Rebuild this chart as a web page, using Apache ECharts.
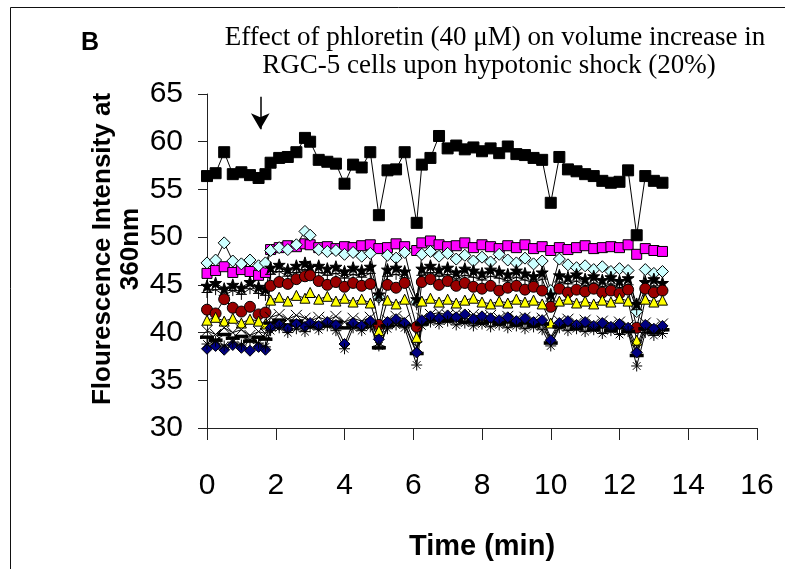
<!DOCTYPE html>
<html>
<head>
<meta charset="utf-8">
<script src="https://cdn.jsdelivr.net/npm/echarts@6/dist/echarts.min.js"></script>
<style>
  html, body { margin: 0; padding: 0; background: #fff; }
  #chart { width: 785px; height: 569px; }
</style>
</head>
<body>
<div id="chart"></div>
<script>
// time points (min)
const times = [0, 0.25, 0.5, 0.75, 1, 1.25, 1.5, 1.7, 1.85, 2.1, 2.35, 2.6, 2.85, 3.0,
  3.25, 3.5, 3.75, 4, 4.25, 4.5, 4.75, 5, 5.25, 5.5, 5.75, 6.1, 6.25, 6.5, 6.75, 7,
  7.25, 7.5, 7.75, 8, 8.25, 8.5, 8.75, 9, 9.25, 9.5, 9.75, 10, 10.25, 10.5, 10.75, 11,
  11.25, 11.5, 11.75, 12, 12.25, 12.5, 12.75, 13, 13.25];

const blackSquares = [56.4, 56.7, 58.9, 56.6, 56.8, 56.5, 56.2, 56.6, 57.8, 58.3, 58.4, 58.9, 60.4, 60.0,
  58.1, 57.9, 57.7, 55.6, 57.6, 57.3, 58.9, 52.3, 57.0, 57.1, 58.9, 51.5, 57.6, 58.3, 60.6, 59.3,
  59.6, 59.2, 59.4, 59.0, 59.3, 58.8, 59.5, 58.7, 58.6, 58.3, 58.1, 53.6, 58.4, 57.1, 56.9, 56.6,
  56.4, 55.9, 55.7, 55.8, 57.0, 50.2, 56.4, 55.9, 55.7];

const magentaSquares = [46.2, 46.5, 46.9, 46.3, 46.6, 46.4, 46.0, 46.3, 48.7, 48.9, 49.1, 49.0, 49.3, 49.2,
  48.9, 49.0, 48.8, 49.0, 48.9, 49.1, 49.2, 48.8, 48.9, 49.3, 49.0, 48.6, 49.4, 49.6, 49.2, 49.0,
  49.1, 49.4, 48.9, 49.2, 49.0, 48.8, 49.1, 48.9, 49.2, 48.8, 49.0, 48.6, 48.9, 48.7, 48.9, 49.1,
  48.8, 48.9, 49.0, 48.9, 49.2, 48.2, 48.8, 48.6, 48.5];

const cyanDiamonds = [47.3, 47.6, 49.4, 47.5, 47.2, 47.6, 47.0, 47.3, 48.6, 48.9, 48.7, 49.2, 50.6, 50.2,
  48.7, 48.5, 48.6, 48.2, 48.4, 48.0, 48.3, 43.7, 48.1, 47.8, 48.4, 43.2, 48.2, 48.5, 48.0, 48.3,
  47.7, 48.1, 47.5, 47.9, 47.4, 48.2, 47.6, 47.3, 47.8, 47.2, 47.5, 44.4, 47.7, 47.1, 46.8, 47.0,
  46.6, 46.9, 46.4, 46.7, 46.5, 42.2, 46.6, 46.2, 46.4];

const blackStars = [44.9, 45.2, 44.6, 45.0, 44.7, 45.3, 44.8, 44.6, 46.8, 47.1, 46.6, 47.0, 47.3, 46.9,
  47.0, 46.7, 46.9, 46.4, 46.8, 46.5, 46.9, 44.0, 46.6, 46.8, 46.4, 43.5, 46.7, 47.0, 46.6, 46.8,
  46.3, 46.7, 46.5, 46.2, 46.6, 46.4, 46.1, 46.5, 46.2, 45.9, 46.3, 44.0, 46.0, 45.8, 46.1, 45.6,
  45.9, 45.5, 45.8, 45.4, 45.7, 43.0, 45.3, 45.6, 45.2];

const blackPlus = [44.2, 44.5, 43.9, 44.4, 44.0, 44.6, 44.1, 43.9, 46.1, 46.4, 45.9, 46.3, 46.6, 46.2,
  46.3, 46.0, 46.2, 45.7, 46.1, 45.8, 46.2, 43.4, 45.9, 46.1, 45.7, 42.9, 46.0, 46.3, 45.9, 46.1,
  45.6, 46.0, 45.8, 45.5, 45.9, 45.7, 45.4, 45.8, 45.5, 45.2, 45.6, 43.3, 45.3, 45.1, 45.4, 44.9,
  45.2, 44.8, 45.1, 44.7, 45.0, 42.4, 44.6, 44.9, 44.5];

const maroonCircles = [42.4, 42.0, 43.5, 42.6, 42.2, 42.7, 41.9, 42.1, 44.9, 45.3, 45.1, 45.6, 45.9, 46.0,
  45.4, 45.0, 45.3, 44.8, 45.2, 44.9, 45.1, 40.8, 45.0, 44.7, 45.2, 40.6, 45.3, 45.6, 45.0, 45.4,
  44.9, 45.2, 44.8, 44.6, 44.9, 44.4, 44.7, 44.9, 44.5, 44.8, 44.4, 42.7, 44.6, 44.2, 44.5, 44.3,
  44.6, 44.2, 44.4, 44.1, 44.5, 40.5, 44.6, 44.2, 44.4];

const yellowTriangles = [41.3, 41.6, 41.2, 41.5, 41.0, 41.4, 41.2, 40.9, 43.4, 43.7, 43.3, 43.9, 43.6, 44.2,
  43.5, 43.8, 43.3, 43.6, 43.2, 43.5, 43.1, 40.2, 43.4, 43.0, 43.5, 39.5, 43.3, 43.6, 43.2, 43.5,
  43.1, 43.4, 43.6, 43.2, 43.0, 43.3, 43.1, 43.5, 43.2, 43.4, 43.0, 41.0, 43.3, 43.5, 43.1, 43.3,
  43.0, 43.4, 43.2, 43.6, 43.3, 39.2, 43.5, 43.2, 43.4];

const blackCrosses = [40.2, 39.8, 40.5, 40.0, 40.3, 39.7, 40.1, 39.9, 41.6, 41.9, 41.4, 41.8, 41.5, 41.2,
  41.6, 41.3, 41.7, 41.1, 41.5, 41.2, 41.6, 39.0, 41.3, 41.7, 41.4, 38.5, 41.5, 41.9, 42.1, 41.8,
  42.0, 41.7, 41.9, 41.6, 41.8, 41.5, 41.7, 41.4, 41.6, 41.3, 41.5, 39.5, 41.2, 41.4, 41.0, 41.3,
  40.9, 41.2, 40.8, 41.1, 40.7, 38.5, 41.0, 40.6, 40.9];

const blackDashes = [39.5, 39.2, 39.8, 39.4, 39.6, 39.1, 39.5, 39.3, 41.0, 41.3, 40.8, 41.2, 40.9, 40.6,
  41.0, 40.7, 41.1, 40.5, 40.9, 40.6, 41.0, 38.4, 40.7, 41.1, 40.8, 37.8, 40.9, 41.3, 41.5, 41.2,
  41.4, 41.1, 41.3, 41.0, 41.2, 40.9, 41.1, 40.8, 41.0, 40.7, 40.9, 38.9, 40.6, 40.8, 40.4, 40.7,
  40.3, 40.6, 40.2, 40.5, 40.1, 37.6, 40.4, 40.0, 40.3];

const navyDiamonds = [38.3, 38.6, 38.2, 38.7, 38.4, 38.1, 38.5, 38.2, 40.5, 40.8, 40.4, 40.9, 40.6, 41.0,
  40.7, 41.1, 40.8, 38.8, 41.0, 40.7, 41.2, 39.3, 41.1, 41.4, 41.0, 37.9, 41.3, 41.7, 41.5, 41.8,
  41.6, 41.9, 41.4, 41.7, 41.5, 41.3, 41.6, 41.2, 41.5, 41.1, 41.3, 39.2, 41.0, 41.2, 40.8, 41.1,
  40.7, 41.0, 40.6, 40.9, 40.5, 37.9, 40.8, 40.4, 40.7];

const blackAsterisks = [38.8, 39.1, 38.6, 39.0, 38.7, 39.2, 38.9, 38.5, 40.2, 40.5, 40.0, 40.4, 40.1, 40.6,
  40.3, 40.7, 40.2, 38.3, 40.5, 40.2, 40.6, 38.6, 40.4, 40.8, 40.5, 36.6, 40.7, 41.1, 40.9, 41.2,
  40.8, 41.0, 40.7, 40.9, 40.6, 40.8, 40.5, 40.7, 40.4, 40.6, 40.3, 38.6, 40.5, 40.2, 40.4, 40.1,
  40.3, 39.9, 40.2, 39.8, 40.1, 36.5, 40.0, 39.7, 39.9];

const xTicks = [0, 16, 2];
const yTicks = [30, 65, 5];

const STAR = 'path://M5,0L6.2,3.6L10,3.6L7,5.9L8.1,9.5L5,7.3L1.9,9.5L3,5.9L0,3.6L3.8,3.6Z';
const CROSS = 'path://M0,0L10,10M10,0L0,10';
const PLUS = 'path://M5,0L5,10M0,5L10,5';
const ASTER = 'path://M5,0L5,10M0,5L10,5M1.5,1.5L8.5,8.5M8.5,1.5L1.5,8.5';

function mk(values, symbol, color, size, extra) {
  return Object.assign({
    type: 'line',
    data: values.map((v, i) => [times[i], v]),
    symbol: symbol,
    symbolSize: size,
    showSymbol: true,
    lineStyle: { color: '#000', width: 1 },
    itemStyle: { color: color, borderColor: '#000', borderWidth: 1, opacity: 1 },
    emphasis: { disabled: true },
    animation: false
  }, extra || {});
}

const chart = echarts.init(document.getElementById('chart'), null, { renderer: 'canvas' });

chart.setOption({
  backgroundColor: '#fff',
  animation: false,
  grid: { left: 207, right: 28, top: 94, bottom: 141 },
  xAxis: {
    type: 'value',
    min: xTicks[0], max: xTicks[1], interval: xTicks[2],
    name: 'Time (min)',
    nameLocation: 'middle',
    nameGap: 104,
    nameTextStyle: { fontFamily: 'Liberation Sans, Arial', fontWeight: 'bold', fontSize: 29, color: '#000' },
    axisLine: { lineStyle: { color: '#222', width: 1 } },
    axisTick: { inside: false, length: 12, lineStyle: { color: '#222' } },
    axisLabel: { margin: 43, fontFamily: 'Liberation Sans, Arial', fontSize: 30, color: '#000' },
    splitLine: { show: false }
  },
  yAxis: {
    type: 'value',
    min: yTicks[0], max: yTicks[1], interval: yTicks[2],
    axisLine: { show: true, lineStyle: { color: '#222', width: 1 } },
    axisTick: { show: true, inside: false, length: 9, lineStyle: { color: '#222' } },
    axisLabel: { margin: 24, fontFamily: 'Liberation Sans, Arial', fontSize: 30, color: '#000' },
    splitLine: { show: false }
  },
  graphic: [
    { type: 'rect', silent: true, shape: { x: 10.5, y: 7.5, width: 800, height: 600 },
      style: { fill: 'none', stroke: '#111', lineWidth: 1 } },
    { type: 'text', left: 81, top: 31,
      style: { text: 'B', fontFamily: 'Liberation Sans, Arial', fontWeight: 'bold', fontSize: 25, fill: '#000' } },
    { type: 'text', x: 495, y: 38,
      style: { text: 'Effect of phloretin (40 \u03bcM) on volume increase in', fontFamily: 'Liberation Serif, Times New Roman',
        fontSize: 27, fill: '#000', align: 'center', verticalAlign: 'middle' } },
    { type: 'text', x: 489, y: 66,
      style: { text: 'RGC-5 cells upon hypotonic shock (20%)', fontFamily: 'Liberation Serif, Times New Roman',
        fontSize: 27, fill: '#000', align: 'center', verticalAlign: 'middle' } },
    { type: 'text', x: 117, y: 249, rotation: Math.PI / 2,
      style: { text: 'Flourescence Intensity at\n360nm', fontFamily: 'Liberation Sans, Arial', fontWeight: 'bold',
        fontSize: 26, lineHeight: 28, fill: '#000', align: 'center', verticalAlign: 'middle' } }
  ],
  series: [
    mk(magentaSquares, 'rect', '#ff00ff', 10),
    mk(cyanDiamonds, 'diamond', '#ccffff', 12),
    mk(blackStars, STAR, '#000', 12),
    mk(blackPlus, PLUS, '#000', 11),
    mk(maroonCircles, 'circle', '#990000', 11),
    mk(yellowTriangles, 'triangle', '#ffff00', 10),
    mk(blackCrosses, CROSS, '#000', 11),
    mk(blackDashes, 'rect', '#000', [12, 3]),
    mk(navyDiamonds, 'diamond', '#000080', 11),
    mk(blackAsterisks, ASTER, '#000', 11),
    mk(blackSquares, 'rect', '#000', 11, {
      markLine: {
        silent: true,
        symbol: ['none', 'arrow'],
        symbolSize: [14, 16],
        label: { show: false },
        lineStyle: { color: '#000', width: 1.5, type: 'solid' },
        data: [[{ coord: [1.55, 64.7] }, { coord: [1.55, 61.3] }]]
      }
    })
  ]
});
</script>
</body>
</html>
